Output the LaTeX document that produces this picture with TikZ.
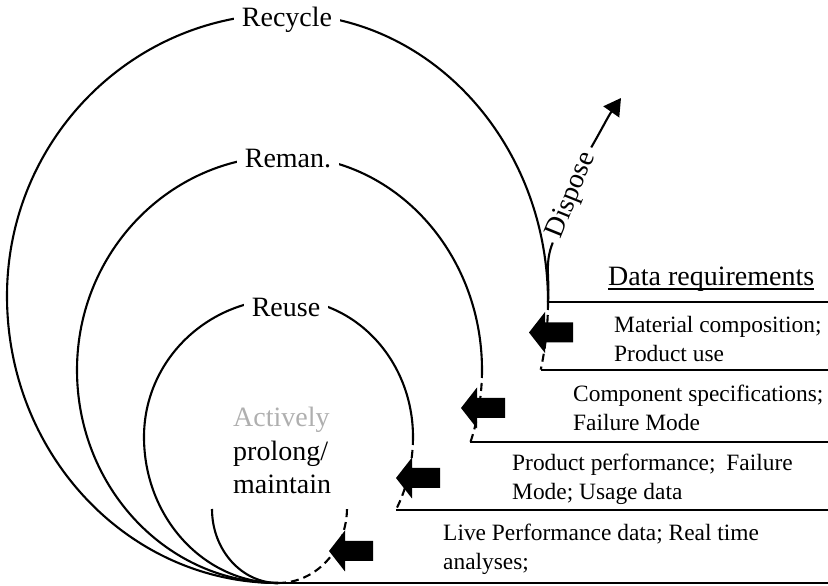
\documentclass[tikz,border=0pt]{standalone}
\usepackage{fontspec}
\setmainfont{Liberation Serif}
\usetikzlibrary{arrows.meta}
\definecolor{softgray}{RGB}{175,175,175}
\begin{document}
\begin{tikzpicture}[x=1pt,y=1pt,
  curve/.style={line width=2.1pt},
  dashcurve/.style={line width=2.1pt, dash pattern=on 8pt off 5pt},
  rule/.style={line width=2.1pt},
  bigfont/.style={font=\fontsize{28}{33.6}\selectfont},
  stagelabel/.style={bigfont, fill=white, inner xsep=8pt, inner ysep=3pt, anchor=base},
  reqtext/.style={font=\fontsize{23.4}{29.5}\selectfont, align=left, anchor=base west, inner sep=0pt},
  blockarrow/.pic={\fill (0,0) -- (16,20.5) -- (16,10) -- (44,10) -- (44,-10) -- (16,-10) -- (16,-20.5) -- cycle;}
]
\useasboundingbox (0,0) rectangle (828,586);
\coordinate (B) at (278,3);
\coordinate (E) at (828,0);

% Recycle loop
\draw[curve] (B) arc[start angle=270,end angle=180,x radius=271,y radius=287]
  arc[start angle=180,end angle=90,x radius=278,y radius=282]
  arc[start angle=90,end angle=0,x radius=263,y radius=288] coordinate (c1);
\draw[dashcurve] (c1) arc[start angle=0,end angle=-13.5,x radius=263,y radius=290] coordinate (d1);

% Reman. loop
\draw[curve] (B) arc[start angle=270,end angle=180,x radius=201,y radius=213]
  arc[start angle=180,end angle=90,x radius=208,y radius=214]
  arc[start angle=90,end angle=0,x radius=197,y radius=214] coordinate (c2);
\draw[dashcurve] (c2) arc[start angle=0,end angle=-19.7,x radius=197,y radius=214] coordinate (d2);

% Reuse loop
\draw[curve] (B) arc[start angle=270,end angle=180,x radius=134,y radius=146]
  arc[start angle=180,end angle=90,x radius=141,y radius=138]
  arc[start angle=90,end angle=0,x radius=128,y radius=138] coordinate (c3);
\draw[dashcurve] (c3) arc[start angle=0,end angle=-30,x radius=128,y radius=146] coordinate (d3);

% Inner maintain loop
\coordinate (m0) at (212,77);
\draw[curve] (m0) arc[start angle=180,end angle=270,x radius=66,y radius=74];
\draw[dashcurve] (B) arc[start angle=270,end angle=360,x radius=69,y radius=75];

% Data requirement rules
\draw[rule] (B) -- (B -| E);
\draw[rule] (c1) -- (c1 -| E);
\draw[rule] (d1) -- (d1 -| E);
\draw[rule] (d2) -- (d2 -| E);
\draw[rule] (d3) -- (d3 -| E);

% Block arrows
\pic at (529,253.5) {blockarrow};
\pic at (461,178) {blockarrow};
\pic at (396,108) {blockarrow};
\pic at (329,35) {blockarrow};

% Stage labels
\node[stagelabel] (recycle) at (287,559) {Recycle};
\node[stagelabel] (reman) at (288,418) {Reman.};
\node[stagelabel] (reuse) at (286,269) {Reuse};
\node[bigfont, align=left, anchor=base west, inner sep=0pt] (keep) at (233,92)
  {\textcolor{softgray}{Actively}\\prolong/\\maintain};

% Dispose branch
\node[bigfont, rotate=68, inner sep=6pt] (dispose) at (572,391) {Dispose};
\draw[curve] (c1) to[out=85,in=248] (dispose.west);
\draw[curve, -{Triangle[length=17pt,width=19pt]}] (dispose.east) to[out=60,in=235] (621,488);

% Header and rows (anchored at the baseline of the last line)
\node[bigfont, anchor=base west, inner sep=0pt] (req) at (608,300) {Data requirements};
\draw[line width=1.2pt] ([yshift=-3pt]req.base west) -- ([yshift=-3pt]req.base east);
\node[reqtext] (r1) at (614,224) {Material composition;\\Product use};
\node[reqtext] (r2) at (573,155) {Component specifications;\\Failure Mode};
\node[reqtext] (r3) at (512,86) {Product performance;\hspace{5pt} Failure\\Mode; Usage data};
\node[reqtext] (r4) at (443,16) {Live Performance data; Real time\\analyses;};
\end{tikzpicture}
\end{document}
